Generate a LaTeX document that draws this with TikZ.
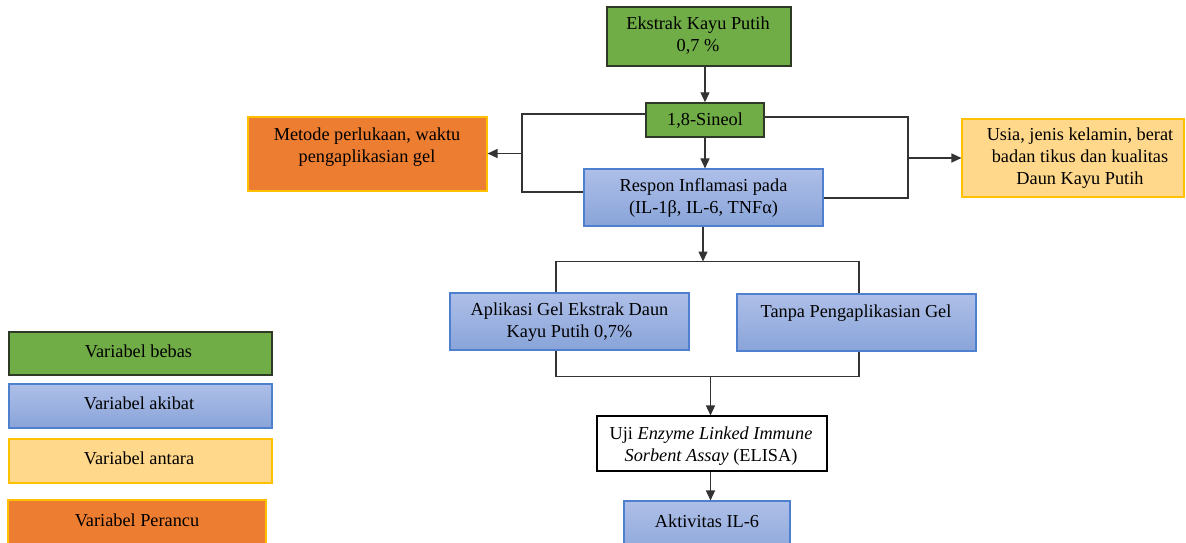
\documentclass[tikz,border=0pt]{standalone}
\usepackage{fontspec}
\setmainfont{Liberation Serif}
\usetikzlibrary{fit,arrows.meta}
\definecolor{gfill}{HTML}{70AD47}
\definecolor{gdraw}{HTML}{2E3A26}
\definecolor{btop}{HTML}{AEBFE8}
\definecolor{bbot}{HTML}{89A4D9}
\definecolor{bdraw}{HTML}{4F7FCF}
\definecolor{yfill}{HTML}{FFD88C}
\definecolor{ydraw}{HTML}{FFC000}
\definecolor{ofill}{HTML}{ED7D31}
\definecolor{lcol}{HTML}{333333}
\begin{document}
\begin{tikzpicture}[x=1pt,y=-1pt,
  every node/.style={font=\fontsize{18.3}{22}\selectfont},
  box/.style={inner sep=0pt, line width=1.1pt},
  gbox/.style={box, draw=gdraw, fill=gfill, line width=1.5pt},
  bbox/.style={box, draw=bdraw, top color=btop, bottom color=bbot},
  ybox/.style={box, draw=ydraw, fill=yfill},
  obox/.style={box, draw=ydraw, fill=ofill},
  wbox/.style={box, draw=black, fill=white},
  txt/.style={align=center, inner sep=0pt, text=black},
  conn/.style={draw=lcol, line width=1.4pt},
  arr/.style={conn, -{Triangle[length=10pt,width=9pt]}}
]
\clip (0,0) rectangle (1186,542);
\fill[white] (0,0) rectangle (1186,542);

% main boxes
\node[gbox, fit={(607,7) (791,66)}] (ek) {};
\node[gbox, fit={(646,103) (764,137)}] (si) {};
\node[bbox, fit={(584,169) (823,226)}] (re) {};
\node[obox, fit={(248,117) (487,191)}] (me) {};
\node[ybox, fit={(962,119) (1184,197)}] (us) {};
\node[bbox, fit={(450,293) (689,350)}] (ap) {};
\node[bbox, fit={(737,294) (976,351)}] (ta) {};
\node[wbox, fit={(597,416) (827,471)}] (el) {};
\node[bbox, fit={(624,501) (790,560)}] (ak) {};

% legend boxes
\node[gbox, fit={(9,332) (272,375)}] (l1) {};
\node[bbox, fit={(9,384) (272,428)}] (l2) {};
\node[ybox, fit={(9,439) (272,483)}] (l3) {};
\node[obox, fit={(8,500) (266,560)}] (l4) {};

% texts
\node[txt] (tek) at (698,35.5) {Ekstrak Kayu Putih\\0,7 \%};
\node[txt] (tsi) at (705,120.5) {1,8-Sineol};
\node[txt] (tre) at (703.5,198.3) {Respon Inflamasi pada\\(IL-1β, IL-6, TNFα)};
\node[txt] (tme) at (367,146.7) {Metode perlukaan, waktu\\pengaplikasian gel};
\node[txt] (tus) at (1080,158) {Usia, jenis kelamin, berat\\badan tikus dan kualitas\\Daun Kayu Putih};
\node[txt] (tap) at (569.5,322) {Aplikasi Gel Ekstrak Daun\\Kayu Putih 0,7\%};
\node[txt] (tta) at (856,312.7) {Tanpa Pengaplikasian Gel};
\node[txt] (tel) at (711,446) {Uji \textit{Enzyme Linked Immune}\\\textit{Sorbent Assay} (ELISA)};
\node[txt] (tak) at (707,521.7) {Aktivitas IL-6};
\node[txt] (tl1) at (138.5,351.7) {Variabel bebas};
\node[txt] (tl2) at (139,403) {Variabel akibat};
\node[txt] (tl3) at (139,458) {Variabel antara};
\node[txt] (tl4) at (137,520) {Variabel Perancu};

% connector coordinates
\coordinate (lt) at (522,114);
\coordinate (lb) at (522,192);
\coordinate (lm) at (522,153.5);
\coordinate (rt) at (908,117);
\coordinate (rb) at (908,198);
\coordinate (rm) at (908,158);
\coordinate (mt) at (703,261.5);
\coordinate (ul) at (556,261.5);
\coordinate (ur) at (859,261.5);
\coordinate (dl) at (556,376.5);
\coordinate (dr) at (859,376.5);
\coordinate (dm) at (710.5,376.5);

% connectors
\draw[arr] (ek.south -| si.north) -- (si.north);
\draw[arr] (si.south) -- (si.south |- re.north);
\draw[conn] (si.west |- lt) -- (lt) -- (lb) -- (re.west |- lb);
\draw[arr] (lm) -- (me.east |- lm);
\draw[conn] (si.east |- rt) -- (rt) -- (rb) -- (re.east |- rb);
\draw[arr] (rm) -- (us.west |- rm);
\draw[arr] (re.south -| mt) -- (mt);
\draw[conn] (ap.north -| ul) -- (ul) -- (ur) -- (ta.north -| ur);
\draw[conn] (ap.south -| dl) -- (dl) -- (dr) -- (ta.south -| dr);
\draw[arr] (dm) -- (el.north -| dm);
\draw[arr] (el.south -| dm) -- (ak.north -| dm);
\end{tikzpicture}
\end{document}
